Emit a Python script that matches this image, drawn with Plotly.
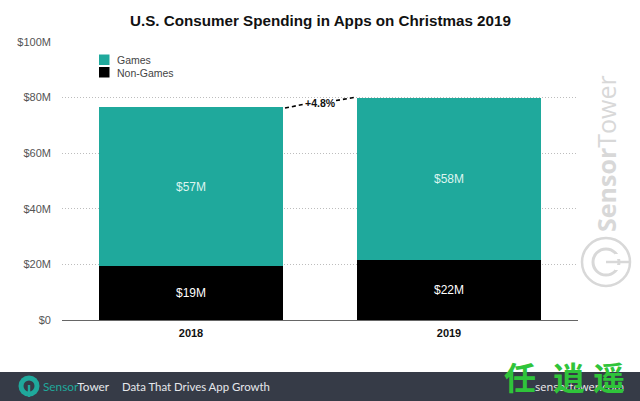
#!/usr/bin/env python3

import plotly.graph_objects as go

W, H = 640, 401
PLOT_L, PLOT_R, PLOT_T, PLOT_B = 62, 578, 42, 320

TEAL = "#1FA99C"
FOOTER = "#363B47"
MARK = "#D8D8D8"

years = ["2018", "2019"]
non_games = [19.4, 21.6]
games = [57.1, 58.4]
non_games_labels = ["$19M", "$22M"]
games_labels = ["$57M", "$58M"]
y_ticks = [0, 20, 40, 60, 80, 100]
y_tick_labels = ["$0", "$20M", "$40M", "$60M", "$80M", "$100M"]
legend_names = ["Games", "Non-Games"]
legend_colors = [TEAL, "#000000"]
stamp_chars = ["任", "逍", "遥"]


def to_paper_x(x):
    return (x - PLOT_L) / (PLOT_R - PLOT_L)


def to_paper_y(y):
    return (PLOT_B - y) / (PLOT_B - PLOT_T)


def rect(x0, y0, x1, y1, color):
    return dict(type="rect", xref="paper", yref="paper", layer="above",
                x0=to_paper_x(x0), x1=to_paper_x(x1), y0=to_paper_y(y0), y1=to_paper_y(y1),
                fillcolor=color, line_width=0)


def circle(cx, cy, r, fill=None, line=None, width=0):
    return dict(type="circle", xref="paper", yref="paper", layer="above",
                x0=to_paper_x(cx - r), x1=to_paper_x(cx + r),
                y0=to_paper_y(cy + r), y1=to_paper_y(cy - r),
                fillcolor=fill or "rgba(0,0,0,0)",
                line=dict(color=line or "rgba(0,0,0,0)", width=width))


def segment(x0, y0, x1, y1, color, width, dash="solid"):
    return dict(type="line", xref="paper", yref="paper", layer="above",
                x0=to_paper_x(x0), x1=to_paper_x(x1), y0=to_paper_y(y0), y1=to_paper_y(y1),
                line=dict(color=color, width=width, dash=dash))


def note(x, y, text, size, color, family="Liberation Sans", anchor="center", angle=0):
    return dict(xref="paper", yref="paper", x=to_paper_x(x), y=to_paper_y(y), text=text,
                showarrow=False, xanchor=anchor, yanchor="middle", textangle=angle,
                font=dict(size=size, color=color, family=family))


fig = go.Figure()
fig.add_trace(go.Bar(x=years, y=non_games, name="Non-Games", marker_color="#000000",
                     text=non_games_labels, textfont=dict(color="#FFFFFF", size=12)))
fig.add_trace(go.Bar(x=years, y=games, name="Games", marker_color=TEAL,
                     text=games_labels, textfont=dict(color="#DDF5F0", size=12)))
fig.update_traces(textposition="inside", insidetextanchor="middle", textangle=0,
                  marker_line_width=0, showlegend=False)

shapes = [
    # footer band
    rect(0, 372, W, H, FOOTER),
    # +4.8% connector
    segment(285, 108, 303, 104.5, "#000000", 1.6, "4px,3px"),
    segment(336, 100.5, 354, 97.5, "#000000", 1.6, "4px,3px"),
    # side logo
    circle(606, 262, 24, line=MARK, width=2.5),
    circle(606, 262, 13, line=MARK, width=3),
    rect(615, 254, 622, 259, "#FFFFFF"),
    rect(615, 265, 622, 270, "#FFFFFF"),
    segment(606, 262, 630, 262, MARK, 2.5),
    # footer logo
    circle(29, 386, 10.5, fill=TEAL),
    circle(29, 386, 5.5, fill=FOOTER),
    rect(27.8, 385, 30.2, 397, TEAL),
]
for i, color in enumerate(legend_colors):
    shapes.append(rect(99, 54.5 + i * 12.5, 109.5, 65 + i * 12.5, color))

annotations = [
    note(320, 20, "<b>U.S. Consumer Spending in Apps on Christmas 2019</b>", 15.2, "#111111"),
    note(320, 103, "<b>+4.8%</b>", 10.5, "#111111"),
    note(606, 154, "<b>Sensor</b>Tower", 25, MARK, family="Open Sans", angle=-90),
    note(41, 386.5, "<span style='color:#1FA99C'>Sensor</span>Tower", 11.8, "#E6E8EC",
         family="Lato", anchor="left"),
    note(120, 386.5, "Data That Drives App Growth", 11.4, "#E6E8EC", family="Lato", anchor="left"),
    note(579, 386.5, "sensortower.com", 11, "#F0F0F0", family="Open Sans"),
]
for i, name in enumerate(legend_names):
    annotations.append(note(115, 60 + i * 12.5, name, 10.5, "#444444", anchor="left"))
for ch, x in zip(stamp_chars, [520, 569, 609]):
    annotations.append(note(x, 376, f"<b>{ch}</b>", 32, "#2FC43A", family="Noto Sans CJK SC"))

fig.update_layout(
    width=W,
    height=H,
    barmode="stack",
    bargap=0.285,
    paper_bgcolor="#FFFFFF",
    plot_bgcolor="#FFFFFF",
    showlegend=False,
    margin=dict(l=PLOT_L, r=W - PLOT_R, t=PLOT_T, b=H - PLOT_B, pad=0),
    font=dict(family="Liberation Sans", color="#444444"),
    shapes=shapes,
    annotations=annotations,
)
fig.update_xaxes(
    tickfont=dict(size=11, color="#111111", family="Liberation Sans"),
    tickprefix="<b>", ticksuffix="</b>",
    showline=True, linecolor="#666666", linewidth=1,
    ticks="", showgrid=False, ticklabelstandoff=3,
)
fig.update_yaxes(
    range=[0, 100], tickvals=y_ticks, ticktext=y_tick_labels,
    tickfont=dict(size=11, color="#555555"),
    showgrid=True, gridcolor="#BDBDBD", griddash="1px,2px", gridwidth=1,
    zeroline=False, showline=False, ticks="", ticklabelstandoff=10,
)

# the page's default body margin would push the 640px figure off the window
fig.write_html("out.html", config={"displayModeBar": False},
               post_script="document.body.style.margin = '0';")
